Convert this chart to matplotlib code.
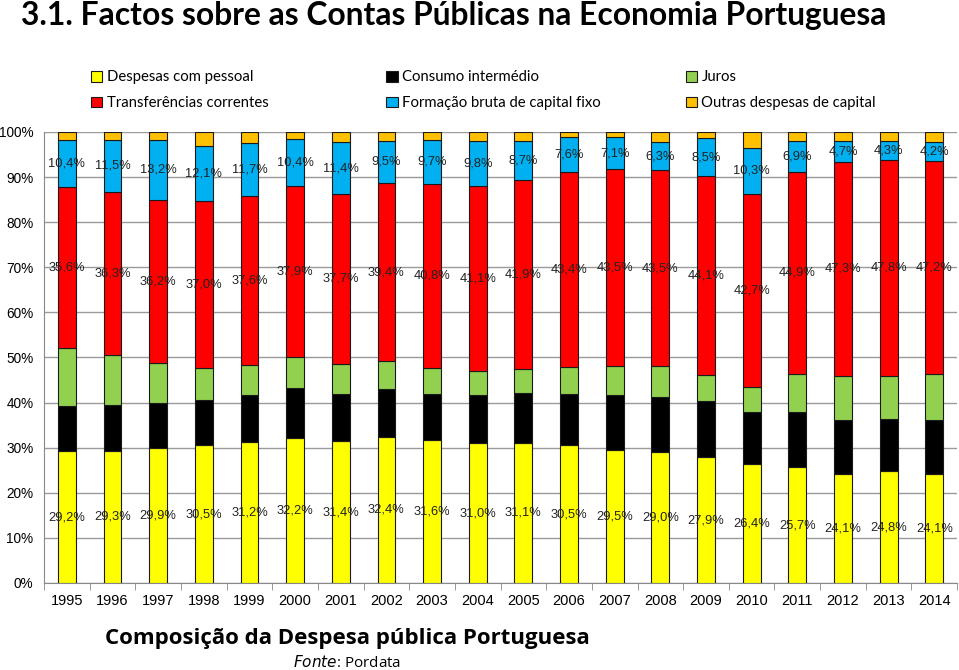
import numpy as np
import matplotlib
matplotlib.use("Agg")
from matplotlib import pyplot as plt
from matplotlib.patches import Patch

anos = [str(a) for a in range(1995, 2015)]

# values in % of total public expenditure
pessoal = [29.2, 29.3, 29.9, 30.5, 31.2, 32.2, 31.4, 32.4, 31.6, 31.0,
           31.1, 30.5, 29.5, 29.0, 27.9, 26.4, 25.7, 24.1, 24.8, 24.1]
consumo = [10.1, 10.2, 10.0, 10.0, 10.4, 11.0, 10.5, 10.5, 10.4, 10.6,
           11.0, 11.3, 12.2, 12.2, 12.4, 11.4, 12.1, 12.0, 11.6, 12.1]
juros = [12.9, 11.0, 8.9, 7.2, 6.7, 6.9, 6.7, 6.3, 5.7, 5.4,
         5.4, 6.0, 6.5, 6.8, 5.8, 5.7, 8.5, 9.9, 9.6, 10.1]
transferencias = [35.6, 36.3, 36.2, 37.0, 37.6, 37.9, 37.7, 39.4, 40.8, 41.1,
                  41.9, 43.4, 43.5, 43.5, 44.1, 42.7, 44.9, 47.3, 47.8, 47.2]
fbcf = [10.4, 11.5, 13.2, 12.1, 11.7, 10.4, 11.4, 9.5, 9.7, 9.8,
        8.7, 7.6, 7.1, 6.3, 8.5, 10.3, 6.9, 4.7, 4.3, 4.2]
outras = [1.8, 1.7, 1.8, 3.2, 2.4, 1.6, 2.3, 1.9, 1.8, 2.1,
          1.9, 1.2, 1.2, 2.2, 1.3, 3.5, 1.9, 2.0, 1.9, 2.3]

series = [
    ("Despesas com pessoal", pessoal, "#FFFF00", True),
    ("Consumo intermédio", consumo, "#000000", False),
    ("Juros", juros, "#92D050", False),
    ("Transferências correntes", transferencias, "#FF0000", True),
    ("Formação bruta de capital fixo", fbcf, "#00B0F0", True),
    ("Outras despesas de capital", outras, "#FFC000", False),
]

plt.rcParams['font.family'] = ['Liberation Sans', 'DejaVu Sans']

fig = plt.figure(figsize=(9.59, 6.70), dpi=100)
ax = fig.add_axes([0.0459, 0.1299, 0.9521, 0.6731])

x = np.arange(len(anos))
bottom = np.zeros(len(anos))
for name, vals, color, labelled in series:
    vals = np.array(vals)
    ax.bar(x, vals, 0.39, bottom=bottom, color=color, edgecolor="#1a1a1a",
           linewidth=0.8, zorder=3)
    if labelled:
        for xi, b, v in zip(x, bottom, vals):
            ax.text(xi, b + v / 2, f"{v:.1f}%".replace(".", ","), ha="center",
                    va="center", fontsize=9.3, color="#222222", zorder=4)
    bottom += vals

ax.set_xlim(-0.5, len(anos) - 0.5)
ax.set_ylim(0, 100)
ax.set_yticks(np.arange(0, 101, 10))
ax.set_yticklabels([f"{v}%" for v in range(0, 101, 10)], fontsize=9.8)
ax.yaxis.grid(True, color="#9a9a9a", linewidth=1.0, zorder=0)
ax.tick_params(axis="y", length=0, pad=7.5)

ax.set_xticks(x)
ax.set_xticklabels(anos, fontsize=10.5)
ax.set_xticks(np.arange(-0.5, len(anos), 1), minor=True)
ax.tick_params(axis="x", which="major", length=0, pad=8)
ax.tick_params(axis="x", which="minor", length=5, color="#888888")

for s in ["top", "right"]:
    ax.spines[s].set_visible(False)
ax.spines["left"].set_color("#888888")
ax.spines["bottom"].set_color("#888888")

# legend in three columns above the plot
cols = [(0.095, [series[0], series[3]]),
        (0.403, [series[1], series[4]]),
        (0.715, [series[2], series[5]])]
for xpos, items in cols:
    handles = [Patch(facecolor=c, edgecolor="#1a1a1a", linewidth=0.8)
               for _, _, c, _ in items]
    labels = [n for n, _, _, _ in items]
    fig.legend(handles, labels, loc="upper left", bbox_to_anchor=(xpos, 0.895),
               frameon=False, prop={"family": "Lato", "size": 10.7},
               handlelength=0.75, handleheight=0.75, handletextpad=0.3,
               labelspacing=0.8, borderaxespad=0, borderpad=0)

fig.text(0.022, 0.977, "3.1. Factos sobre as Contas Públicas na Economia Portuguesa",
         fontsize=22.9, fontweight="bold", family="Lato", va="center", ha="left")
fig.text(0.362, 0.047, "Composição da Despesa pública Portuguesa",
         fontsize=16, fontweight="bold", family="Open Sans", ha="center", va="center")
fig.text(0.362, 0.011, r"$\it{Fonte}$: Pordata", fontsize=11,
         family="Open Sans", ha="center", va="center")

fig.savefig("out.png", dpi=100)
